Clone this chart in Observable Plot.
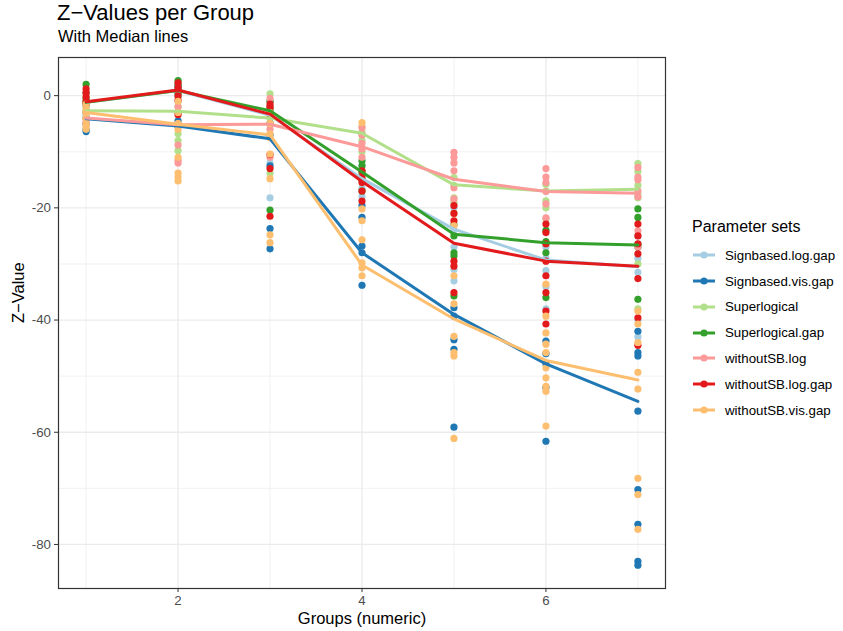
<!DOCTYPE html>
<html>
<head>
<meta charset="utf-8">
<script src="https://cdn.jsdelivr.net/npm/d3@7"></script>
<script src="https://cdn.jsdelivr.net/npm/@observablehq/plot@0.6"></script>
<style>
  body { margin: 0; background: #fff; font-family: "Liberation Sans", Arial, sans-serif; }
  #wrap { position: relative; width: 843px; height: 631px; overflow: hidden; }
  #chart { position: absolute; left: 0; top: 0; }
  #title { position: absolute; left: 57px; top: 0px; font-size: 22px; line-height: 1.15; color: #000; white-space: nowrap; }
  #subtitle { position: absolute; left: 58px; top: 27px; font-size: 16.5px; line-height: 1.15; color: #000; white-space: nowrap; }
  #legend { position: absolute; left: 692px; top: 218px; }
  #legend .lt { font-size: 16px; line-height: 1.15; color: #000; margin-bottom: 6px; white-space: nowrap; }
  #legend .it { display: flex; align-items: center; height: 25.8px; }
  #legend .it svg { display: block; }
  #legend .it span { font-size: 13.3px; color: #000; margin-left: 9px; white-space: nowrap; }
</style>
</head>
<body>
<div id="wrap">
  <div id="chart"></div>
  <div id="title">Z−Values per Group</div>
  <div id="subtitle">With Median lines</div>
  <div id="legend"></div>
</div>
<script>
// ---- data ----
const groups = [1, 2, 3, 4, 5, 6, 7];
const setNames = ["Signbased.log.gap", "Signbased.vis.gap", "Superlogical", "Superlogical.gap",
                  "withoutSB.log", "withoutSB.log.gap", "withoutSB.vis.gap"];
const setColors = ["#A6CEE3", "#1F78B4", "#B2DF8A", "#33A02C", "#FB9A99", "#E31A1C", "#FDBF6F"];
const yTicks = [0, -20, -40, -60, -80];
const xTicks = [2, 4, 6];

// individual Z-values per group (one inner list per group 1..7)
const ptsSignbasedLogGap = [
  [-1.0, -1.5, -2, -3.5, -5],
  [2, 1, 0.5, -1, -3],
  [-1, -3, -4, -12, -18.2],
  [-12.5, -14, -15, -16.5, -18],
  [-20, -24, -27, -31, -33],
  [-27, -29, -31.2, -34, -38],
  [-25, -29, -31.5, -40, -43]
];
const ptsSignbasedVisGap = [
  [-3, -4, -5, -6.0, -6.4],
  [1.5, 0, -3, -4.5, -5.5],
  [-5, -7, -12.5, -23.7, -27.3],
  [-19.6, -21.7, -26.8, -28, -33.8],
  [-37.8, -39.3, -43.5, -45.2, -59.1],
  [-43.75, -46, -47.8, -52, -61.6],
  [-42, -45.8, -46.4, -56.25, -70.2, -76.4, -83, -83.7]
];
const ptsSuperlogical = [
  [-2, -2.7, -3, -4],
  [0, -2, -6.8, -8, -9.8],
  [0.3, -2.5, -4, -5, -13.8],
  [-5.5, -6.5, -7, -8, -10],
  [-14.6, -16, -18.2, -19, -21],
  [-15.8, -17, -18.75, -20, -22],
  [-12.1, -13.5, -16, -17.5, -18.2, -30, -38]
];
const ptsSuperlogicalGap = [
  [2.0, 0.5, -1.2, -0.5],
  [2.7, 2, 1, 0.5],
  [-1, -2, -2.7, -5, -20.4],
  [-11.6, -12.5, -13.6, -15, -17],
  [-23, -25, -28, -28.6, -35.7],
  [-24, -26, -26.3, -28, -36],
  [-20.2, -21.7, -26.5, -27, -36.3]
];
const ptsWithoutSBLog = [
  [-3, -4, -4.5, -5],
  [-2, -5, -8.8, -11.5, -12],
  [-0.5, -2, -5, -6, -11],
  [-5.7, -7, -8.5, -9.5, -11],
  [-10.1, -11, -12, -13.4, -16.4, -18.4],
  [-13, -14.5, -15.5, -17.1, -19.3, -21.8],
  [-12.8, -14.5, -15, -17, -18, -24.1, -27]
];
const ptsWithoutSBLogGap = [
  [1.2, 0.5, -0.2, -1.0, -1.5],
  [2.3, 1.5, 0.8, 0, -0.8, -3.4],
  [-1.5, -2.1, -3.3, -10.5, -13, -21.5],
  [-13.4, -14.5, -15.5, -17, -18.8],
  [-19.6, -21, -22.3, -29.5, -30.4, -35.1],
  [-22.9, -24.4, -26.4, -29.5, -32.1, -35.1, -38.4, -40.7],
  [-22.9, -25, -26.4, -28.2, -32.6, -39.6, -44.5]
];
const ptsWithoutSBVisGap = [
  [-1.5, -2.5, -3, -4, -5, -5.5, -6],
  [-1, -3, -5, -6, -11, -13.8, -14.5, -15.2],
  [-3, -5, -6.8, -7.5, -10.4, -14.8, -24.8, -26.2],
  [-4.8, -20.2, -22.3, -25.7, -29.8, -30.7, -32.1],
  [-23.2, -32.1, -37.1, -42.9, -45.8, -46.4, -61.1],
  [-33.6, -39.3, -42.3, -44.3, -45.8, -48.5, -50.3, -51.8, -52.7, -58.9],
  [-38.4, -40.7, -44, -49.3, -52.3, -68.2, -71.1, -77.3]
];

// median per group (as drawn)
const medSignbasedLogGap = [-1.2, 0.9, -3.5, -14.8, -23.8, -29.3, -30.5];
const medSignbasedVisGap = [-4.1, -5.4, -7.7, -28.0, -39.0, -47.8, -54.5];
const medSuperlogical    = [-2.7, -2.8, -4.0, -6.7, -15.9, -17.0, -16.7];
const medSuperlogicalGap = [-1.2, 0.9, -2.7, -13.6, -24.7, -26.2, -26.6];
const medWithoutSBLog    = [-4.0, -5.2, -5.1, -9.1, -14.9, -17.1, -17.4];
const medWithoutSBLogGap = [-1.1, 1.0, -3.3, -15.3, -26.3, -29.5, -30.4];
const medWithoutSBVisGap = [-3.0, -5.1, -7.0, -30.2, -39.8, -47.2, -50.7];

const allPts = [ptsSignbasedLogGap, ptsSignbasedVisGap, ptsSuperlogical, ptsSuperlogicalGap,
                ptsWithoutSBLog, ptsWithoutSBLogGap, ptsWithoutSBVisGap];
const allMed = [medSignbasedLogGap, medSignbasedVisGap, medSuperlogical, medSuperlogicalGap,
                medWithoutSBLog, medWithoutSBLogGap, medWithoutSBVisGap];

const points = [];
allPts.forEach((byGroup, si) => byGroup.forEach((vals, gi) =>
  vals.forEach(v => points.push({set: setNames[si], x: groups[gi], z: v}))));
const medians = [];
allMed.forEach((vals, si) => vals.forEach((v, gi) =>
  medians.push({set: setNames[si], x: groups[gi], z: v})));

const xMinor = [1, 3, 5, 7];
const yMinor = [-10, -30, -50, -70];

const chart = Plot.plot({
  width: 843,
  height: 631,
  marginLeft: 58,
  marginRight: 178,
  marginTop: 57,
  marginBottom: 43,
  style: {fontFamily: "Liberation Sans, Arial, sans-serif", background: "transparent", overflow: "visible"},
  x: {domain: [0.7, 7.3]},
  y: {domain: [-87.85, 6.8]},
  color: {domain: setNames, range: setColors},
  marks: [
    Plot.gridX(xMinor, {stroke: "#ebebeb", strokeOpacity: 1, strokeWidth: 0.7}),
    Plot.gridY(yMinor, {stroke: "#ebebeb", strokeOpacity: 1, strokeWidth: 0.7}),
    Plot.gridX(xTicks, {stroke: "#ebebeb", strokeOpacity: 1, strokeWidth: 1.3}),
    Plot.gridY(yTicks, {stroke: "#ebebeb", strokeOpacity: 1, strokeWidth: 1.3}),
    Plot.dot(points, {x: "x", y: "z", fill: "set", r: 3.6}),
    Plot.line(medians, {x: "x", y: "z", stroke: "set", z: "set", strokeWidth: 3, curve: "linear"}),
    Plot.frame({stroke: "#333333", strokeWidth: 1.2}),
    Plot.axisX(xTicks, {tickSize: 4, stroke: "#333333", label: null, tickFormat: () => ""}),
    Plot.axisY(yTicks, {tickSize: 4, stroke: "#333333", label: null, tickFormat: () => ""}),
    Plot.text(xTicks, {x: d => d, frameAnchor: "bottom", lineAnchor: "top", dy: 7, fontSize: 13.3, fill: "#4d4d4d"}),
    Plot.text(yTicks, {y: d => d, frameAnchor: "left", textAnchor: "end", dx: -7.5, fontSize: 13.3, fill: "#4d4d4d", text: d => String(d)}),
    Plot.text(["Groups (numeric)"], {frameAnchor: "bottom", dy: 35, fontSize: 16.5, fill: "#000"}),
    Plot.text(["Z−Value"], {frameAnchor: "left", dx: -40, rotate: -90, fontSize: 16.5, fill: "#000"})
  ]
});
document.getElementById("chart").appendChild(chart);

// legend
const legend = document.getElementById("legend");
const lt = document.createElement("div");
lt.className = "lt";
lt.textContent = "Parameter sets";
legend.appendChild(lt);
setNames.forEach((name, i) => {
  const it = document.createElement("div");
  it.className = "it";
  it.innerHTML = `<svg width="24" height="12"><line x1="1" x2="23" y1="6" y2="6" stroke="${setColors[i]}" stroke-width="3"/><circle cx="12" cy="6" r="3.6" fill="${setColors[i]}"/></svg><span>${name}</span>`;
  legend.appendChild(it);
});
</script>
</body>
</html>
